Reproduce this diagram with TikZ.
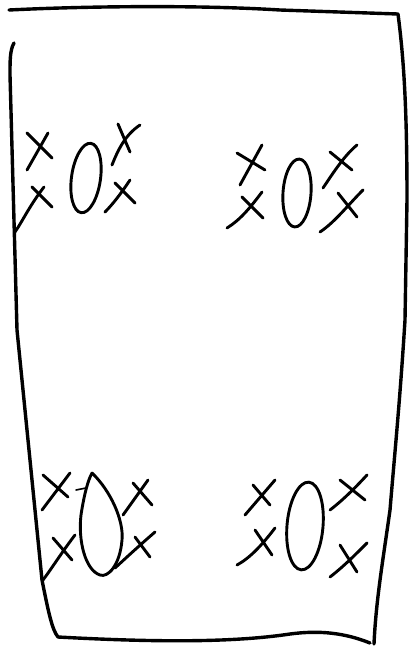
\documentclass[tikz,border=0pt]{standalone}
\usetikzlibrary{shapes.geometric}

\begin{document}
\begin{tikzpicture}[x=1pt, y=-1pt,
    frame/.style={line width=3.4pt, line cap=round, line join=round},
    pen/.style={line width=2.9pt, line cap=round},
    ring/.style={draw, ellipse, line width=2.9pt, inner sep=0pt}]
  \useasboundingbox (0,0) rectangle (409,646);
  % the sheet
  \draw[frame] (9,10) .. controls (90,6) and (200,5) .. (280,10) -- (398,14)
    .. controls (404,60) and (407,110) .. (407,200) -- (405,320)
    .. controls (400,400) and (395,450) .. (390,510)
    .. controls (383,560) and (376,600) .. (374,644);
  \draw[frame] (14,43) .. controls (10,50) and (10,60) .. (10,75)
    -- (17,330) -- (42,580) .. controls (48,610) and (52,630) .. (58,637)
    .. controls (150,642) and (230,643) .. (290,634)
    .. controls (320,630) and (345,633) .. (370,643);
  % top left
  \node[ring, minimum width=29, minimum height=70, rotate=-8] (o1) at (86,178) {};
  \draw[pen] (27,133) -- (52,158) (48,133) -- (27,170);
  \draw[pen] (32,187) -- (52,207) (44,187) .. controls (30,205) and (22,222) .. (15,232);
  \draw[pen] (118,124) -- (130,152) (140,125) .. controls (125,135) and (118,150) .. (112,165);
  \draw[pen] (115,183) -- (135,203) (130,180) .. controls (120,195) and (112,205) .. (105,212);
  % top right
  \node[ring, minimum width=28, minimum height=68, rotate=-4] (o2) at (297,193) {};
  \draw[pen] (237,153) -- (265,170) (262,145) -- (240,185);
  \draw[pen] (242,197) -- (263,218) (262,192) .. controls (250,208) and (240,220) .. (227,228);
  \draw[pen] (330,152) -- (352,170) (357,145) .. controls (345,155) and (335,170) .. (323,188);
  \draw[pen] (338,193) -- (357,217) (363,190) .. controls (348,205) and (335,222) .. (320,232);
  % bottom left
  \draw[pen] (92,473) .. controls (110,490) and (124,520) .. (122,540)
    .. controls (120,565) and (108,578) .. (100,575)
    .. controls (85,570) and (78,540) .. (81,515)
    .. controls (84,495) and (88,480) .. (92,473);
  \draw[pen, line width=1.6pt] (76,490) -- (86,488);
  \draw[pen] (43,475) -- (68,497) (70,473) -- (42,510);
  \draw[pen] (53,538) -- (72,560) (75,535) .. controls (62,552) and (52,568) .. (43,580);
  \draw[pen] (133,483) -- (152,505) (148,480) -- (123,515);
  \draw[pen] (135,537) -- (150,557) (155,532) .. controls (140,545) and (128,556) .. (115,568);
  % bottom right
  \node[ring, minimum width=36, minimum height=88, rotate=-5] (o4) at (305,526) {};
  \draw[pen] (253,485) -- (270,505) (275,480) -- (245,515);
  \draw[pen] (255,530) -- (272,555) (275,528) .. controls (262,545) and (250,558) .. (237,565);
  \draw[pen] (340,480) -- (365,500) (367,475) .. controls (355,488) and (343,500) .. (330,510);
  \draw[pen] (340,545) -- (357,572) (367,543) .. controls (355,555) and (343,567) .. (330,577);
\end{tikzpicture}
\end{document}
